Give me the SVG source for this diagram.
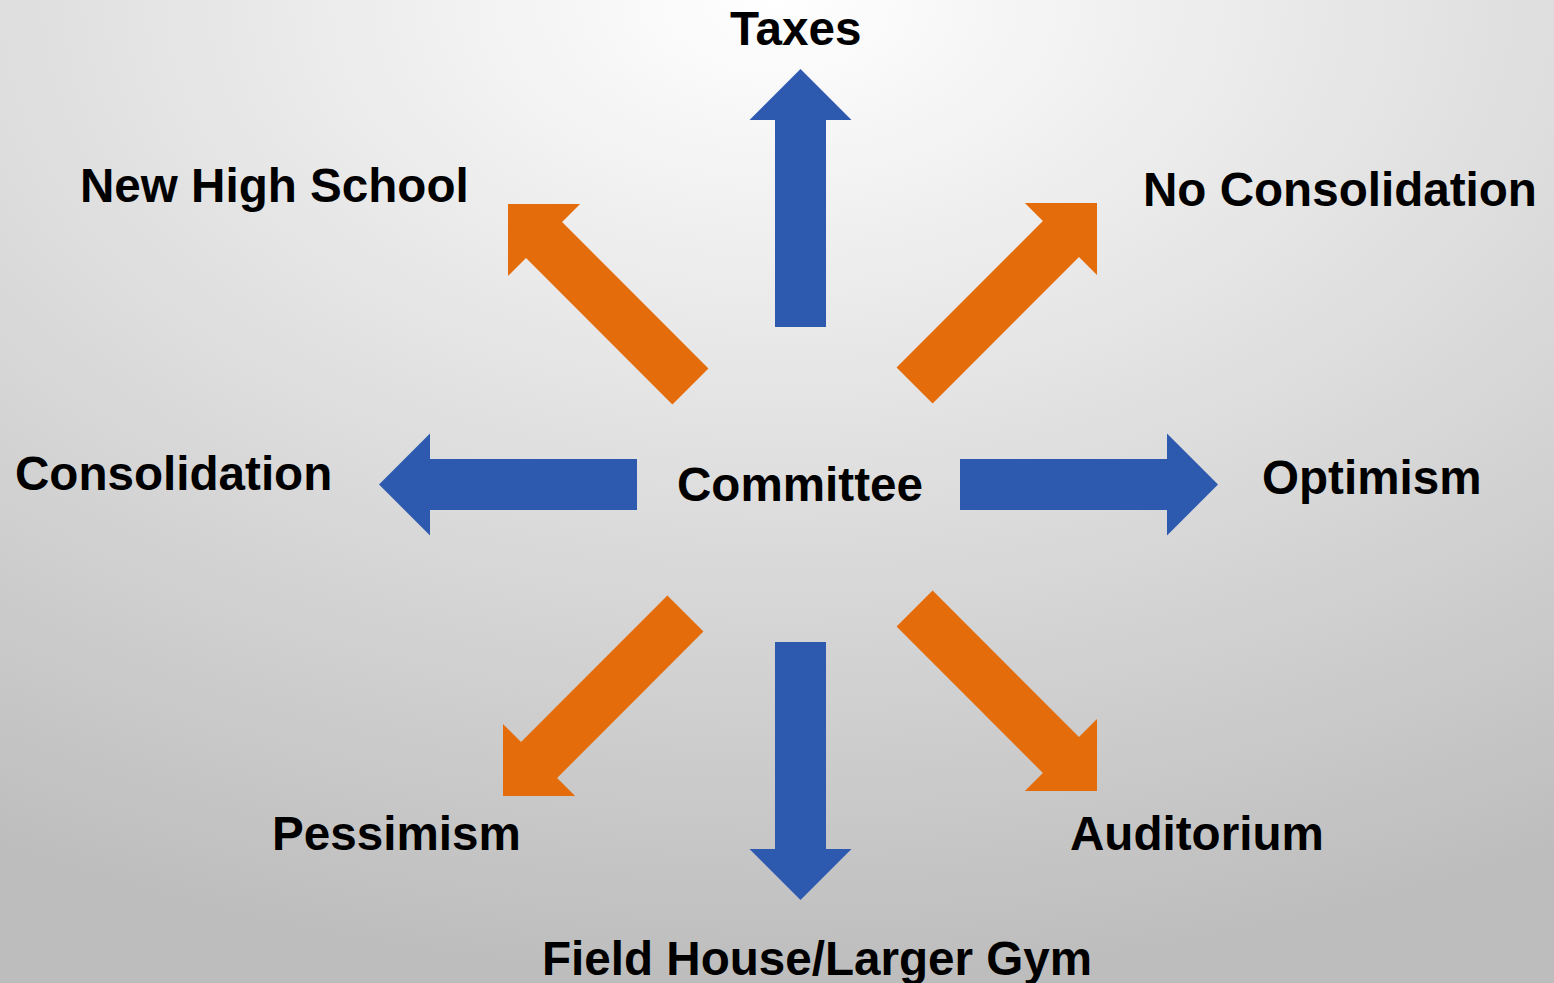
<svg xmlns="http://www.w3.org/2000/svg" width="1554" height="983" viewBox="0 0 1554 983">
  <defs>
    <radialGradient id="bg" cx="0.5" cy="0" r="1" fx="0.5" fy="0">
      <stop offset="0" stop-color="#ffffff"/>
      <stop offset="1" stop-color="#bdbdbd"/>
    </radialGradient>
    <!-- block arrow pointing up, tip at origin -->
    <path id="arrow" d="M0,0 L51,51 L25.5,51 L25.5,258 L-25.5,258 L-25.5,51 L-51,51 Z"/>
  </defs>
  <style>
    .blue { fill: #2d5aaf; }
    .orange { fill: #e46c0a; }
    .label { font-family: "Liberation Sans", Arial, sans-serif; font-weight: bold; font-size: 47.6px; fill: #000000; }
  </style>

  <rect x="0" y="0" width="1554" height="983" fill="url(#bg)"/>

  <g id="connectors">
    <use href="#arrow" class="blue" transform="translate(800.5,69)"/>
    <use href="#arrow" class="blue" transform="translate(800.5,900) rotate(180)"/>
    <use href="#arrow" class="blue" transform="translate(379,484.5) rotate(-90)"/>
    <use href="#arrow" class="blue" transform="translate(1218,484.5) rotate(90)"/>
    <use href="#arrow" class="orange" transform="translate(508,204) rotate(-45)"/>
    <use href="#arrow" class="orange" transform="translate(1097,203) rotate(45)"/>
    <use href="#arrow" class="orange" transform="translate(503,796) rotate(-135)"/>
    <use href="#arrow" class="orange" transform="translate(1097,791) rotate(135)"/>
  </g>

  <g id="committee"><text class="label" x="677" y="501">Committee</text></g>
  <g id="taxes"><text class="label" x="730" y="45">Taxes</text></g>
  <g id="new-high-school"><text class="label" x="80" y="202">New High School</text></g>
  <g id="no-consolidation"><text class="label" x="1143" y="206">No Consolidation</text></g>
  <g id="consolidation"><text class="label" x="15" y="490">Consolidation</text></g>
  <g id="optimism"><text class="label" x="1262" y="494">Optimism</text></g>
  <g id="pessimism"><text class="label" x="272" y="850">Pessimism</text></g>
  <g id="auditorium"><text class="label" x="1070" y="850">Auditorium</text></g>
  <g id="field-house"><text class="label" x="542" y="975">Field House/Larger Gym</text></g>
</svg>
